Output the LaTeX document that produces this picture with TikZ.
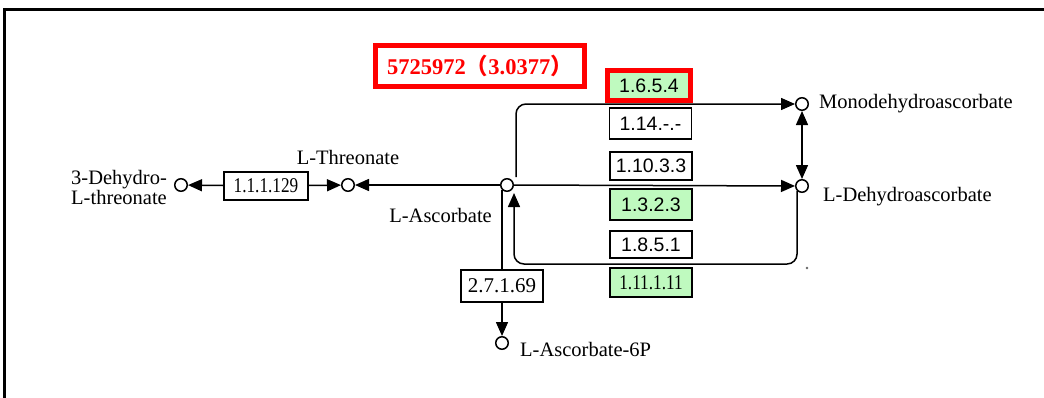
\documentclass[tikz,border=0pt]{standalone}
\usepackage{fontspec}
\usepackage{graphicx}
\setmainfont{Liberation Serif}
\newfontfamily\ecsans{Liberation Sans}
\newfontfamily\cjk{Noto Sans CJK SC}
\usetikzlibrary{arrows.meta}
\definecolor{ecgreen}{RGB}{191,250,191}
\definecolor{hitred}{RGB}{255,0,0}
\newcommand{\narrowec}[1]{\scalebox{0.82}[1]{#1}}

\begin{document}
\begin{tikzpicture}[x=1pt,y=-1pt,
  >={Triangle[length=14pt,width=12pt]},
  cpd/.style={circle,draw,line width=1.5pt,minimum size=12.5pt,inner sep=0pt,fill=white},
  lbl/.style={font=\fontsize{20.5}{20}\selectfont,inner sep=0pt},
  ec/.style={draw,line width=1.2pt,minimum width=82pt,inner sep=0pt,fill=white,
             font=\ecsans\fontsize{19.5}{20}\selectfont},
  ecs/.style={ec,font=\fontsize{21}{20}\selectfont},
  hit/.style={fill=ecgreen},
  link/.style={line width=1.5pt},
]
\useasboundingbox[fill=white] (0,0) rectangle (1044,397);

% outer frame
\draw[line width=3pt] (4.5,402) |- (1050,9);

% compounds
\node[cpd] (asc)  at (507,185) {};
\node[cpd] (thr)  at (348,185) {};
\node[cpd] (dht)  at (181,185) {};
\node[cpd] (mono) at (802,104) {};
\node[cpd] (dha)  at (802,186) {};
\node[cpd] (a6p)  at (502,343) {};

% compound names
\node[lbl,anchor=west] (monoL) at (819,104) {Monodehydroascorbate};
\node[lbl,anchor=west] (dhaL)  at (823,197) {L-Dehydroascorbate};
\node[lbl,anchor=east] (ascL)  at (492,215) {L-Ascorbate};
\node[lbl] (thrL) at (348,157) {L-Threonate};
\node[lbl,anchor=west,align=left] (dhtL) at (71,187) {3-Dehydro-\\L-threonate};
\node[lbl,anchor=west] (a6pL) at (520,349) {L-Ascorbate-6P};

% enzymes
\node[ec,hit,draw=hitred,line width=5pt,minimum width=83pt,minimum height=30pt] (e0) at (649,85.5) {1.6.5.4};
\node[ec,minimum height=31pt] (e1) at (650.5,123.5) {1.14.-.-};
\node[ec,minimum height=28pt] (e2) at (651,166) {1.10.3.3};
\node[ec,hit,minimum height=31pt] (e3) at (651,204.5) {1.3.2.3};
\node[ec,minimum height=27pt] (e4) at (651,244.5) {1.8.5.1};
\node[ecs,hit,minimum height=29pt] (e5) at (651,282.5) {\narrowec{1.11.1.11}};
\node[ecs,minimum width=84pt,minimum height=28pt] (e6) at (266,186) {\narrowec{1.1.1.129}};
\node[ecs,minimum height=32pt] (e7) at (502,286) {2.7.1.69};

% expression note
\node[draw=hitred,line width=5pt,minimum width=209pt,minimum height=41pt,inner sep=0pt,
      text=hitred,font=\bfseries\fontsize{22.5}{22}\selectfont] (note) at (480,66)
      {5725972{\cjk（}3.0377{\cjk）}};

% reactions
\coordinate (ascUp)  at (516,177);
\coordinate (ascIn)  at (514,193);
\coordinate (loopBL) at (514,264);
\draw[link,->,rounded corners=10pt] (ascUp) |- (mono);
\draw[link,->] (asc) -- (dha);
\draw[link,->,rounded corners=10pt] (dha.south west) |- (loopBL) -- (ascIn);
\draw[link,<->] (mono) -- (dha);
\draw[link,->] (asc) -- (thr);
\draw[link,->] (e6) -- (thr);
\draw[link,->] (e6) -- (dht);
\draw[link] (e7.north) -- (e7.north |- asc.south west);
\draw[link,->] (e7) -- (a6p);
\fill[black!60] (807,268) circle (1.3);
\end{tikzpicture}
\end{document}
